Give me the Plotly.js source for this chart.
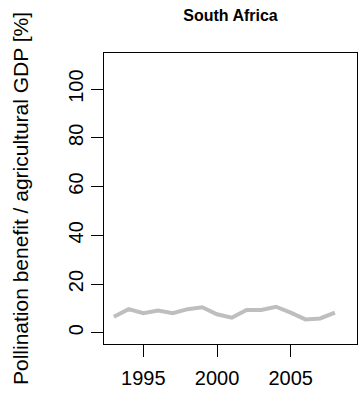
<!DOCTYPE html>
<html>
<head>
<meta charset="utf-8">
<script src="https://cdn.plot.ly/plotly-3.0.1.min.js"></script>
<style>html,body{margin:0;padding:0;background:#fff;}#chart{width:358px;height:393px;}</style>
</head>
<body>
<div id="chart"></div>
<script>
const years = [1993,1994,1995,1996,1997,1998,1999,2000,2001,2002,2003,2004,2005,2006,2007,2008];
const benefit = [6.6,9.7,8.0,9.1,8.0,9.7,10.5,7.6,6.2,9.4,9.4,10.7,8.3,5.5,5.9,8.3];
const xTicks = [1995,2000,2005];
const yTicks = [0,20,40,60,80,100];
const titleText = 'South Africa';
const yTitle = 'Pollination benefit / agricultural GDP [%]';

const font = 'Liberation Sans, Arial, sans-serif';
const trace = {
  x: years, y: benefit, type: 'scatter', mode: 'lines',
  line: {color: '#bebebe', width: 4}, hoverinfo: 'skip'
};
const layout = {
  width: 358, height: 393,
  margin: {l: 104, r: 1, t: 53, b: 49, pad: 0},
  paper_bgcolor: '#fff', plot_bgcolor: '#fff',
  showlegend: false,
  font: {family: font, color: '#000'},
  title: {text: '<b>' + titleText + '</b>', font: {family: font, size: 16, color: '#000'},
          x: 0.5, xref: 'paper', y: 1 - 15/393, yref: 'container', yanchor: 'middle'},
  xaxis: {
    range: [1992.33, 2009.5], tickvals: xTicks, ticktext: xTicks.map(String),
    ticks: 'outside', ticklen: 12, tickwidth: 1, tickcolor: '#000', ticklabelstandoff: 4,
    showline: true, mirror: true, linecolor: '#000', linewidth: 1,
    showgrid: false, zeroline: false,
    tickfont: {family: font, size: 20, color: '#000'}
  },
  yaxis: {
    range: [-4.6, 114.8], tickvals: yTicks, ticktext: yTicks.map(String),
    ticks: 'outside', ticklen: 12, tickwidth: 1, tickcolor: '#000', tickangle: -90,
    showline: true, mirror: true, linecolor: '#000', linewidth: 1,
    showgrid: false, zeroline: false,
    tickfont: {family: font, size: 20, color: '#000'},
    title: {text: yTitle, font: {family: font, size: 21, color: '#000'}, standoff: 30}
  }
};
Plotly.newPlot('chart', [trace], layout, {staticPlot: true, displayModeBar: false});
</script>
</body>
</html>
